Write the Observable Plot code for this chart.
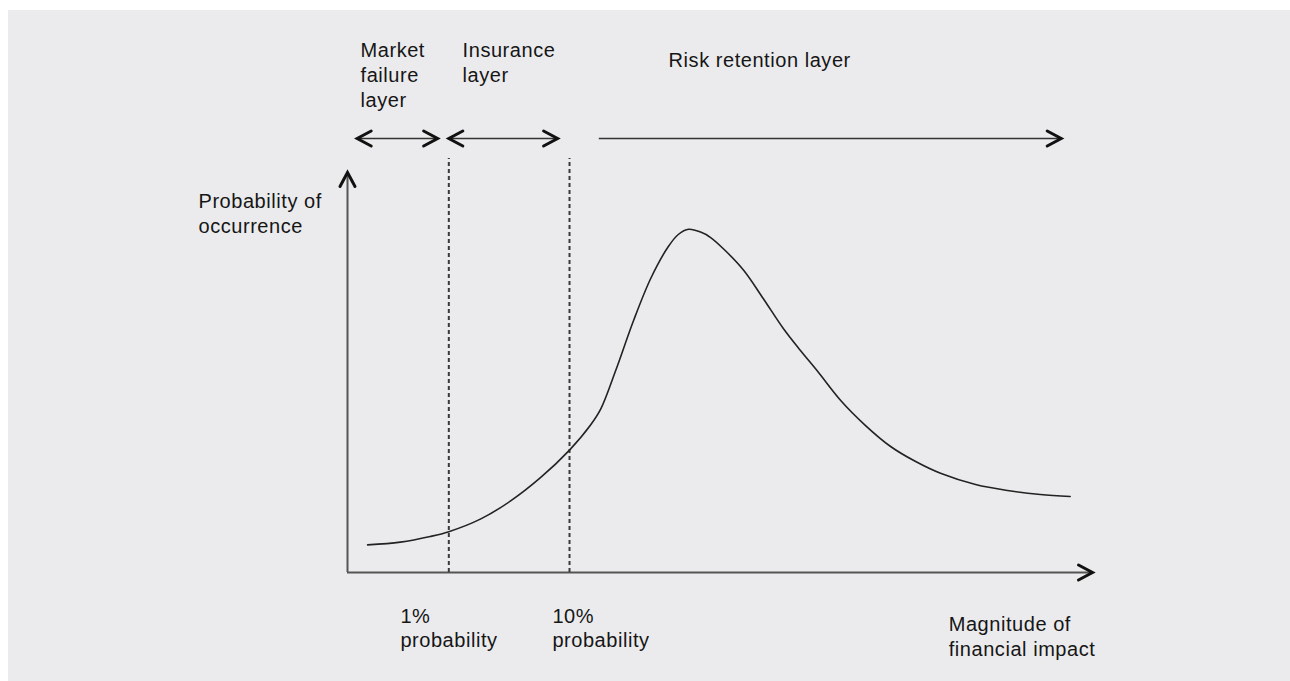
<!DOCTYPE html>
<html>
<head>
<meta charset="utf-8">
<script src="https://cdn.jsdelivr.net/npm/d3@7"></script>
<script src="https://cdn.jsdelivr.net/npm/@observablehq/plot@0.6"></script>
<style>
  html, body { margin: 0; padding: 0; background: #ffffff; }
  #frame { position: absolute; left: 8px; top: 10px; width: 1282px; height: 671px; background: #ebebed; }
  #frame svg text { letter-spacing: 0.55px; }
</style>
</head>
<body>
<div id="frame"></div>
<script>
// Curve: magnitude of financial impact (x) vs probability of occurrence (y), arbitrary units 0–100
const magnitude   = [2.7, 7.1, 11.1, 13.6, 17.9, 21.9, 25.9, 29.8, 32.6, 34.0, 36.0, 38.4, 40.7, 43.0, 44.4, 45.8, 47.4, 48.7, 50.7, 53.2, 55.8, 58.5, 60.8, 63.1, 66.2, 69.5, 72.9, 76.2, 79.6, 84.3, 88.6, 93.0, 97.0];
const probability = [6.9, 7.6, 9.0, 10.2, 13.4, 17.9, 23.7, 30.6, 36.8, 40.9, 50.5, 63.0, 73.5, 81.3, 84.5, 85.8, 85.1, 83.8, 80.5, 75.5, 68.5, 61.0, 55.5, 50.3, 43.0, 36.8, 31.5, 27.8, 24.8, 22.0, 20.5, 19.5, 19.0];

// Probability thresholds (dashed lines)
const thresholdX     = [13.6, 29.8];
const thresholdLabel = ["1%\nprobability", "10%\nprobability"];
const thresholdTop   = 103.5;

// Layers (arrows across the top)
const layerName   = ["Market\nfailure\nlayer", "Insurance\nlayer", "Risk retention layer"];
const layerStart  = [1.3, 13.6, 33.8];
const layerEnd    = [12.1, 28.2, 95.8];
const layerDouble = [true, true, false];
const layerLevel  = 108.5;

// Annotation anchors (data units)
const layerLabelX = [1.75, 15.45, 43.1];
const layerLabelY = [133.2, 133.2, 130.7];
const thresholdLabelX = [7.1, 27.5];
const thresholdLabelY = -8.1;
const axisTitles = [
  {text: "Probability of\noccurrence", x: -20.0, y: 95.5},
  {text: "Magnitude of\nfinancial impact", x: 80.7, y: -10.3}
];

const curve = magnitude.map((m, i) => ({m, p: probability[i]}));
const thresholds = thresholdX.map((x, i) => ({x, label: thresholdLabel[i], lx: thresholdLabelX[i]}));
const layers = layerName.map((name, i) => ({name, x1: layerStart[i], x2: layerEnd[i], dbl: layerDouble[i], lx: layerLabelX[i], ly: layerLabelY[i]}));

function chevron(dir) {
  const L = 14, W = 7.5;
  return {
    draw(ctx) {
      if (dir === "right") { ctx.moveTo(-L, -W); ctx.lineTo(0, 0); ctx.lineTo(-L, W); }
      else if (dir === "left") { ctx.moveTo(L, -W); ctx.lineTo(0, 0); ctx.lineTo(L, W); }
      else { ctx.moveTo(-W, L); ctx.lineTo(0, 0); ctx.lineTo(W, L); }
    }
  };
}

const rightHeads = [...layers.map(d => ({x: d.x2, y: layerLevel})), {x: 100, y: 0}];
const leftHeads = layers.filter(d => d.dbl).map(d => ({x: d.x1, y: layerLevel}));
const upHeads = [{x: 0, y: 100}];

const headStyle = {stroke: "#111", strokeWidth: 3, fill: "none", strokeLinejoin: "miter", strokeLinecap: "round"};
const textStyle = {textAnchor: "start", lineAnchor: "top", fontSize: 20, lineHeight: 1.24, fill: "#161616"};

const chart = Plot.plot({
  width: 1282,
  height: 671,
  marginLeft: 339,
  marginRight: 198,
  marginTop: 162,
  marginBottom: 109,
  x: {domain: [0, 100], axis: null},
  y: {domain: [0, 100], axis: null},
  style: {background: "transparent", fontFamily: "'Liberation Sans', Arial, Helvetica, sans-serif", color: "#161616"},
  marks: [
    // axes
    Plot.ruleX([0], {y1: 0, y2: 100, stroke: "#555", strokeWidth: 2}),
    Plot.ruleY([0], {x1: 0, x2: 100, stroke: "#555", strokeWidth: 2}),
    // thresholds
    Plot.ruleX(thresholds, {x: "x", y1: 0, y2: thresholdTop, stroke: "#3a3a3a", strokeWidth: 2, strokeDasharray: "4,3"}),
    // layer shafts
    Plot.ruleY(layers, {y: layerLevel, x1: "x1", x2: "x2", stroke: "#333", strokeWidth: 1.5}),
    // curve
    Plot.line(curve, {x: "m", y: "p", curve: "catmull-rom", stroke: "#222", strokeWidth: 1.6}),
    // arrow heads
    Plot.dot(rightHeads, {x: "x", y: "y", symbol: chevron("right"), ...headStyle}),
    Plot.dot(leftHeads, {x: "x", y: "y", symbol: chevron("left"), ...headStyle}),
    Plot.dot(upHeads, {x: "x", y: "y", symbol: chevron("up"), ...headStyle}),
    // labels
    Plot.text(layers, {x: "lx", y: "ly", text: "name", ...textStyle}),
    Plot.text(thresholds, {x: "lx", y: thresholdLabelY, text: "label", ...textStyle}),
    Plot.text(axisTitles, {x: "x", y: "y", text: "text", ...textStyle})
  ]
});
document.getElementById("frame").appendChild(chart);
</script>
</body>
</html>
